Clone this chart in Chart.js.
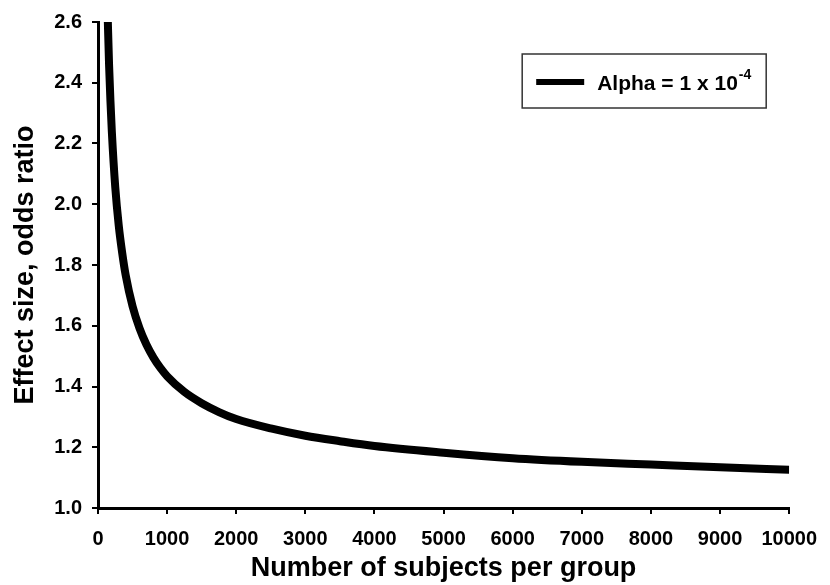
<!DOCTYPE html>
<html>
<head>
<meta charset="utf-8">
<script src="https://cdn.jsdelivr.net/npm/chart.js@4.4.1/dist/chart.umd.min.js"></script>
<style>
  html, body { margin: 0; padding: 0; background: #fff; }
  #wrap { width: 830px; height: 585px; }
</style>
</head>
<body>
<div id="wrap"><canvas id="chart"></canvas></div>
<script>
// subjects per group vs detectable odds ratio
const subjects = [140, 160, 180, 200, 250, 300, 350, 400, 500, 600, 700, 800, 900, 1000,
  1250, 1500, 1750, 2000, 2500, 3000, 3500, 4000, 5000, 6000, 7000, 8000, 9000, 10000];
const oddsRatio = [2.62, 2.46, 2.34, 2.24, 2.055, 1.93, 1.84, 1.767, 1.664, 1.592, 1.538, 1.496, 1.462, 1.434,
  1.382, 1.345, 1.316, 1.293, 1.262, 1.238, 1.22, 1.204, 1.182, 1.164, 1.152, 1.143, 1.134, 1.126];
const seriesLabel = "Alpha = 1 x 10";
const seriesSup = "-4";

const FONT = "'Liberation Sans', Arial, sans-serif";

const legendBox = {
  id: "legendBox",
  afterDraw(chart) {
    const ctx = chart.ctx;
    const a = chart.chartArea;
    const x = a.right - 267, y = a.top + 32, w = 244, h = 54;
    ctx.save();
    ctx.fillStyle = "#fff";
    ctx.fillRect(x, y, w, h);
    ctx.strokeStyle = "#333";
    ctx.lineWidth = 1.5;
    ctx.strokeRect(x, y, w, h);
    ctx.strokeStyle = "#000";
    ctx.lineWidth = 6;
    ctx.beginPath();
    ctx.moveTo(x + 14, y + 28);
    ctx.lineTo(x + 62, y + 28);
    ctx.stroke();
    ctx.fillStyle = "#000";
    ctx.textBaseline = "alphabetic";
    ctx.font = "bold 21px " + FONT;
    ctx.fillText(seriesLabel, x + 75, y + 36);
    const tw = ctx.measureText(seriesLabel).width;
    ctx.font = "bold 14px " + FONT;
    ctx.fillText(seriesSup, x + 75 + tw + 1, y + 25);
    ctx.restore();
  }
};

new Chart(document.getElementById("chart"), {
  type: "line",
  data: {
    datasets: [{
      label: seriesLabel,
      data: subjects.map((n, i) => ({ x: n, y: oddsRatio[i] })),
      borderColor: "#000",
      borderWidth: 8,
      pointRadius: 0,
      fill: false,
      cubicInterpolationMode: "monotone"
    }]
  },
  options: {
    responsive: true,
    maintainAspectRatio: false,
    animation: false,
    layout: { padding: { top: 19, right: 40, left: 0, bottom: 0 } },
    plugins: { legend: { display: false }, tooltip: { enabled: false } },
    scales: {
      x: {
        type: "linear",
        min: 0, max: 10000,
        afterFit(s) { s.height = 77; },
        border: { display: true, color: "#000", width: 3 },
        grid: { drawOnChartArea: false, drawTicks: true, tickLength: 6, color: "#000", lineWidth: 2 },
        ticks: { stepSize: 1000, color: "#000", padding: 13, maxRotation: 0, callback: v => String(v), font: { family: FONT, size: 20, weight: "bold" } },
        title: { display: true, text: "Number of subjects per group", color: "#000", padding: { top: 0, bottom: 0 }, font: { family: FONT, size: 27, weight: "bold" } }
      },
      y: {
        min: 1.0, max: 2.6,
        afterFit(s) { s.width = 98; },
        border: { display: true, color: "#000", width: 3 },
        grid: { drawOnChartArea: false, drawTicks: true, tickLength: 6, color: "#000", lineWidth: 2 },
        ticks: { stepSize: 0.2, color: "#000", padding: 10, callback: v => v.toFixed(1), font: { family: FONT, size: 20, weight: "bold" } },
        title: { display: true, text: "Effect size, odds ratio", color: "#000", padding: { top: 9, bottom: 0 }, font: { family: FONT, size: 27, weight: "bold" } }
      }
    }
  },
  plugins: [legendBox]
});
</script>
</body>
</html>
